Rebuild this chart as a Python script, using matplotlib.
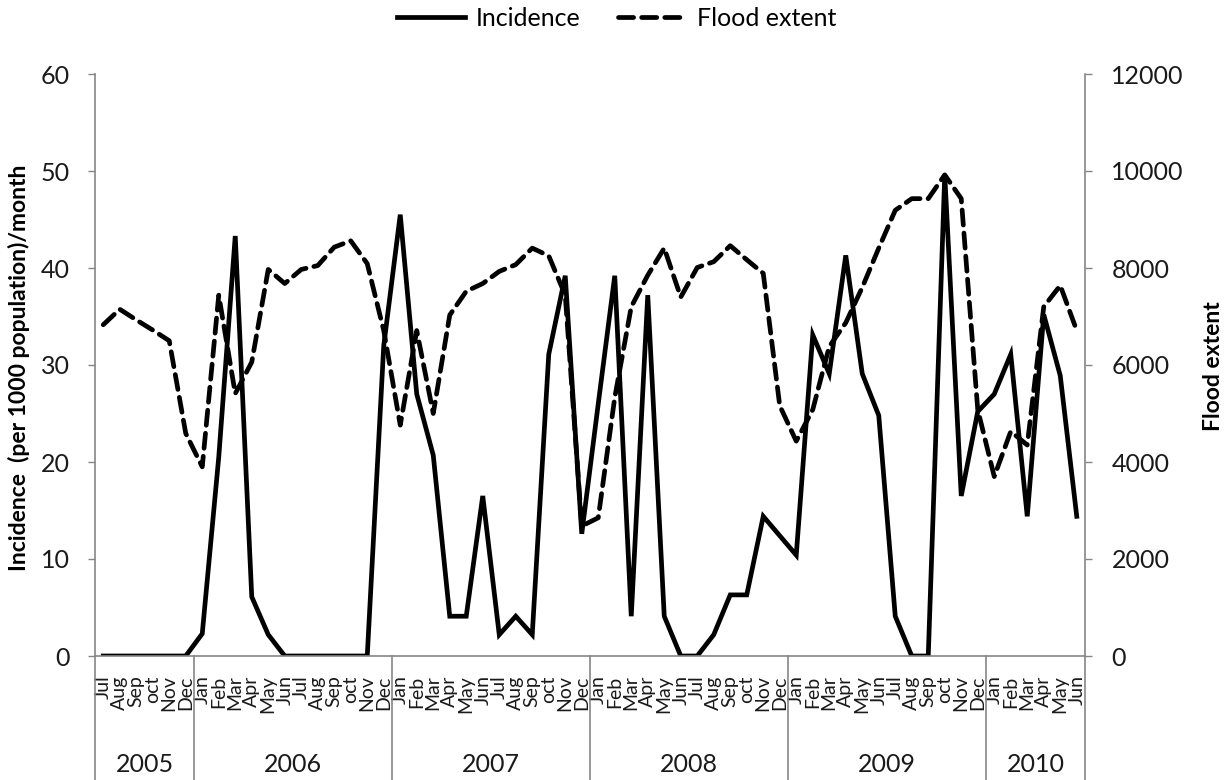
import numpy as np
import matplotlib
matplotlib.use("Agg")
import matplotlib.pyplot as plt
import matplotlib.transforms as mtransforms

plt.rcParams['font.family'] = ['Lato', 'DejaVu Sans']

months = ["Jul", "Aug", "Sep", "oct", "Nov", "Dec"] + \
         ["Jan", "Feb", "Mar", "Apr", "May", "Jun", "Jul", "Aug", "Sep", "oct", "Nov", "Dec"] * 4 + \
         ["Jan", "Feb", "Mar", "Apr", "May", "Jun"]
years = ["2005", "2006", "2007", "2008", "2009", "2010"]
year_counts = [6, 12, 12, 12, 12, 6]

incidence = [0, 0, 0, 0, 0, 0,
             2.3, 20.5, 43.3, 6.1, 2.2, 0, 0, 0, 0, 0, 0, 32.0,
             45.5, 27.0, 20.7, 4.1, 4.1, 16.5, 2.2, 4.1, 2.2, 31.1, 39.2, 12.6,
             26.0, 39.2, 4.1, 37.2, 4.1, 0, 0, 2.2, 6.3, 6.3, 14.4, 12.4,
             10.4, 33.1, 29.1, 41.3, 29.1, 24.8, 4.1, 0, 0, 49.6, 16.5, 25.2,
             27.0, 31.1, 14.4, 35.2, 28.9, 14.4]

flood = [6830, 7150, 6930, 6720, 6500, 4590,
         3900, 7440, 5410, 6060, 7970, 7680, 7970, 8050, 8430, 8560, 8090, 6710,
         4760, 6710, 5000, 7030, 7520, 7680, 7930, 8070, 8410, 8250, 7440, 2680,
         2850, 5330, 7200, 7850, 8410, 7400, 8010, 8130, 8460, 8170, 7890, 5160,
         4430, 5080, 6380, 6870, 7600, 8410, 9190, 9430, 9430, 9920, 9430, 5080,
         3700, 4630, 4350, 7200, 7640, 6710]

W, H = 1228, 780
fig = plt.figure(figsize=(W / 100, H / 100), dpi=100)
left, right, top, bottom = 95, 1085, 74, 656
ax = fig.add_axes([left / W, 1 - bottom / H, (right - left) / W, (bottom - top) / H])
ax2 = ax.twinx()

gray = '#868686'
x = np.arange(len(months))

l1, = ax.plot(x, incidence, color='black', lw=3.4, solid_joinstyle='miter', label='Incidence')
l2, = ax2.plot(x, flood, color='black', lw=3.4, linestyle=(0, (3.2, 1.7)),
               dash_capstyle='round', label='Flood extent')

ax.set_xlim(-0.5, len(months) - 0.5)
ax.set_ylim(0, 60)
ax.set_yticks(np.arange(0, 61, 10))
ax2.set_ylim(0, 12000)
ax2.set_yticks(np.arange(0, 12001, 2000))

for a in (ax, ax2):
    a.spines['top'].set_visible(False)
    for s in a.spines.values():
        s.set_color(gray)
        s.set_linewidth(1.2)
ax.spines['right'].set_visible(False)
ax2.spines['left'].set_visible(False)
ax2.spines['bottom'].set_visible(False)

ax.tick_params(axis='y', direction='out', length=5, width=1, color=gray,
               labelsize=18, pad=13, labelcolor='#1a1a1a')
ax2.tick_params(axis='y', direction='out', length=5, width=1, color=gray,
                labelsize=18, pad=14, labelcolor='#1a1a1a')

ax.set_xticks(x)
ax.set_xticklabels(months, rotation=90, fontsize=14, va='top', ha='center', color='#1a1a1a')
ax.tick_params(axis='x', length=0, pad=14)

# year separators and labels
trans = mtransforms.blended_transform_factory(ax.transData, ax.transAxes)
ybot = -(H - bottom) / (bottom - top)
bounds = np.concatenate([[0], np.cumsum(year_counts)]) - 0.5
for b in bounds:
    ax.plot([b, b], [0, ybot], transform=trans, color=gray, lw=1.2, clip_on=False)
yl = -(765 - bottom) / (bottom - top)
for i, yr in enumerate(years):
    c = (bounds[i] + bounds[i + 1]) / 2
    ax.text(c, yl, yr, transform=trans, ha='center', va='center', fontsize=18, color='#1a1a1a')

fig.text(19 / W, 1 - 368 / H, "Incidence  (per 1000 population)/month", rotation=90,
         ha='center', va='center', fontsize=16.5, fontweight='bold')
fig.text(1213 / W, 1 - 366 / H, "Flood extent", rotation=90,
         ha='center', va='center', fontsize=16.5, fontweight='bold')

fig.legend(handles=[l1, l2], loc='center', bbox_to_anchor=(617 / W, 1 - 18 / H),
           ncol=2, frameon=False, fontsize=18, handlelength=2.7, handletextpad=0.45,
           columnspacing=1.5)

fig.savefig('out.png', dpi=100)
